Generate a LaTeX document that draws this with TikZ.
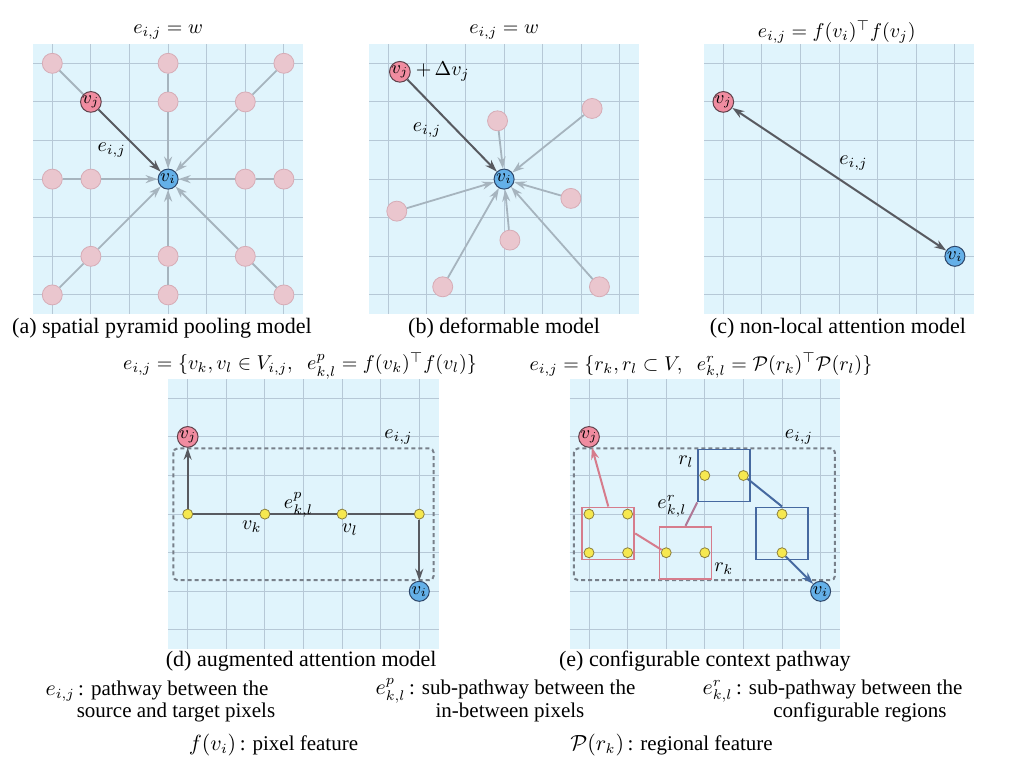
\documentclass[tikz,border=0pt]{standalone}
\usepackage{fontspec}
\setmainfont{Liberation Serif}
\usepackage{amsmath}
\usetikzlibrary{positioning,arrows.meta}

\definecolor{bgblue}{RGB}{224,244,252}
\definecolor{gridgray}{RGB}{182,200,214}
\definecolor{ghostpink}{RGB}{234,198,206}
\definecolor{ghostedge}{RGB}{214,172,182}
\definecolor{srcpink}{RGB}{240,140,160}
\definecolor{srcedge}{RGB}{95,65,75}
\definecolor{tgtblue}{RGB}{100,176,232}
\definecolor{tgtedge}{RGB}{45,70,105}
\definecolor{softgray}{RGB}{166,180,190}
\definecolor{hardgray}{RGB}{88,90,96}
\definecolor{dotyellow}{RGB}{246,232,80}
\definecolor{dotedge}{RGB}{140,128,60}
\definecolor{regpink}{RGB}{214,124,140}
\definecolor{regblue}{RGB}{70,105,160}
\definecolor{regmauve}{RGB}{175,120,150}
\definecolor{dashgray}{RGB}{120,128,138}

\tikzset{
  >={Stealth[length=6pt, width=4pt]},   % default arrow tip
  panelbg/.style={fill=bgblue},
  gridline/.style={draw=gridgray, line width=0.5pt},
  ghost/.style={circle, minimum size=10pt, inner sep=0pt, fill=ghostpink, draw=ghostedge, line width=0.4pt},
  srcpix/.style={circle, minimum size=10pt, inner sep=0pt, fill=srcpink, draw=srcedge, line width=0.5pt, font=\small},
  tgtpix/.style={circle, minimum size=10pt, inner sep=0pt, fill=tgtblue, draw=tgtedge, line width=0.5pt, font=\small},
  pixdot/.style={circle, minimum size=5pt, inner sep=0pt, fill=dotyellow, draw=dotedge, line width=0.4pt},
  regbox/.style={draw, minimum size=26pt, inner sep=0pt, line width=0.9pt},
  softedge/.style={draw=softgray, line width=0.9pt},
  hardedge/.style={draw=hardgray, line width=1pt},
  pathbox/.style={draw=dashgray, line width=1pt, dash pattern=on 2pt off 1.5pt, rounded corners=2pt},
  caption/.style={font=\fontsize{11}{13}\selectfont},
  legend/.style={font=\fontsize{10.5}{12}\selectfont, inner sep=0pt},
}

\begin{document}
\begin{tikzpicture}[x=0.5pt, y=-0.5pt]
	\fill[white] (0,0) rectangle (1022,767);
	\useasboundingbox (0,0) rectangle (1022,767);

	% panel backgrounds and grids
	\foreach \ox/\oy in {52.3/63.3, 388.3/63.3, 723.3/63.3, 187.7/398.3, 589/398.3} {
		\begin{scope}[shift={(\ox,\oy)}, x=19.3pt, y=-19.3pt]
			\fill[panelbg] (-0.5,-0.5) rectangle (6.5,6.5);
			\foreach \k in {0,...,6} {
				\draw[gridline] (\k,-0.5) -- (\k,6.5);
				\draw[gridline] (-0.5,\k) -- (6.5,\k);
			}
		\end{scope}
	}

	% (a) spatial pyramid pooling
	\begin{scope}[shift={(52.3,63.3)}, x=19.3pt, y=-19.3pt]
		\node[tgtpix] (ai) at (3,3) {$v_i$};
		\node[srcpix] (aj) at (1,1) {$v_j$};
		\node[ghost] (ao) at (0,0) {};
		\draw[softedge] (ao) -- (aj);
		\foreach \dx/\dy [count=\n] in {0/-1,1/-1,-1/0,1/0,-1/1,0/1,1/1} {
			\node[ghost] (ain\n) at ({3+2*\dx},{3+2*\dy}) {};
			\node[ghost] (aout\n) at ({3+3*\dx},{3+3*\dy}) {};
			\draw[softedge] (aout\n) -- (ain\n);
			\draw[softedge,->] (ain\n) -- (ai);
		}
		\draw[hardedge,->] (aj) -- (ai);
		\node (ae) at (1.54,2.25) {$e_{i,j}$};
		\node (atop) at (3,-0.82) {$e_{i,j} = w$};
		\node[caption] (acap) at (2.84,6.86) {(a) spatial pyramid pooling model};
	\end{scope}

	% (b) deformable
	\begin{scope}[shift={(388.3,63.3)}, x=19.3pt, y=-19.3pt]
		\node[tgtpix] (bi) at (3,3) {$v_i$};
		\node[srcpix] (bj) at (0.3,0.22) {$v_j$};
		\node[right=-1pt of bj] (bdelta) {$+\,\Delta v_j$};
		\foreach \p/\q [count=\n] in {2.83/1.49, 5.28/1.17, 4.73/3.5, 0.22/3.83, 3.15/4.58, 1.41/5.79, 5.47/5.79} {
			\node[ghost] (bg\n) at (\p,\q) {};
			\draw[softedge,->] (bg\n) -- (bi);
		}
		\draw[hardedge,->] (bj) -- (bi);
		\node (be) at (1.0,1.73) {$e_{i,j}$};
		\node (btop) at (3,-0.82) {$e_{i,j} = w$};
		\node[caption] (bcap) at (3,6.86) {(b) deformable model};
	\end{scope}

	% (c) non-local attention
	\begin{scope}[shift={(723.3,63.3)}, x=19.3pt, y=-19.3pt]
		\node[srcpix] (cj) at (0,1) {$v_j$};
		\node[tgtpix] (ci) at (6,5) {$v_i$};
		\draw[hardedge,<->] (cj) -- (ci);
		\node (ce) at (3.37,2.59) {$e_{i,j}$};
		\node (ctop) at (2.94,-0.82) {$e_{i,j} = f(v_i)^{\top} f(v_j)$};
		\node[caption] (ccap) at (2.97,6.86) {(c) non-local attention model};
	\end{scope}

	% (d) augmented attention
	\begin{scope}[shift={(187.7,398.3)}, x=19.3pt, y=-19.3pt]
		\draw[pathbox] (-0.37,1.3) rectangle (6.37,4.71);
		\node[srcpix] (dj) at (0,1) {$v_j$};
		\node[tgtpix] (di) at (6,5) {$v_i$};
		\foreach \c [count=\n] in {0,2,4,6}
			\node[pixdot] (d\n) at (\c,3) {};
		\draw[hardedge,->] (d1) -- (dj);
		\draw[hardedge] (d1) -- (d2) -- (d3) -- (d4);
		\draw[hardedge,->] (d4) -- (di);
		\node (de) at (5.46,1.0) {$e_{i,j}$};
		\node (dep) at (2.87,2.76) {$e^p_{k,l}$};
		\node (dvk) at (1.66,3.32) {$v_k$};
		\node (dvl) at (4.2,3.41) {$v_l$};
		\node (dtop) at (2.91,-0.84) {$e_{i,j} = \{v_k, v_l \in V_{i,j},\;\; e^p_{k,l} = f(v_k)^{\top} f(v_l)\}$};
		\node[caption] (dcap) at (2.94,6.81) {(d) augmented attention model};
	\end{scope}

	% (e) configurable context pathway
	\begin{scope}[shift={(589,398.3)}, x=19.3pt, y=-19.3pt]
		\draw[pathbox] (-0.39,1.3) rectangle (6.37,4.71);
		\node[srcpix] (ej) at (0,1) {$v_j$};
		\node[tgtpix] (ei) at (6,5) {$v_i$};
		% regions
		\node[regbox, draw=regpink] (rb1) at (0.5,3.5) {};
		\node[regbox, draw=regpink] (rb2) at (2.5,4) {};
		\node[regbox, draw=regblue] (rb3) at (3.5,2) {};
		\node[regbox, draw=regblue] (rb4) at (5,3.5) {};
		% pixels inside the regions
		\foreach \p/\q [count=\n] in {0/3, 1/3, 0/4, 1/4, 2/4, 3/4, 3/2, 4/2, 5/3, 5/4}
			\node[pixdot] (e\n) at (\p,\q) {};
		\draw[draw=regpink, line width=1pt, ->] (rb1.north) -- (ej);
		\draw[draw=regpink, line width=1pt] (rb1.east) -- (e5);
		\draw[draw=regmauve, line width=1pt] (rb2.north) -- (rb3.south west);
		\draw[draw=regblue, line width=1pt] (e8) -- (rb4.north);
		\draw[draw=regblue, line width=1pt, ->] (e10) -- (ei);
		\node (ee) at (5.44,1.0) {$e_{i,j}$};
		\node (erl) at (2.51,1.65) {$r_l$};
		\node (erk) at (3.49,4.42) {$r_k$};
		\node (eer) at (2.15,2.8) {$e^r_{k,l}$};
		\node (etop) at (2.9,-0.84) {$e_{i,j} = \{r_k, r_l \subset V,\;\; e^r_{k,l} = \mathcal{P}(r_k)^{\top} \mathcal{P}(r_l)\}$};
		\node[caption] (ecap) at (3,6.81) {(e) configurable context pathway};
	\end{scope}

	% legend
	\node[legend] (lgA1) at (157,691) {$e_{i,j}$\,: pathway between the};
	\node[legend] (lgA2) at (176,712) {source and target pixels};
	\node[legend] (lgB1) at (505.5,691) {$e^p_{k,l}$\,: sub-pathway between the};
	\node[legend] (lgB2) at (510,712) {in-between pixels};
	\node[legend] (lgC1) at (832.5,691) {$e^r_{k,l}$\,: sub-pathway between the};
	\node[legend] (lgC2) at (860,712) {configurable regions};
	\node[legend] (lgD) at (273.5,745) {$f(v_i)$\,: pixel feature};
	\node[legend] (lgE) at (671.5,745) {$\mathcal{P}(r_k)$\,: regional feature};

\end{tikzpicture}
\end{document}
